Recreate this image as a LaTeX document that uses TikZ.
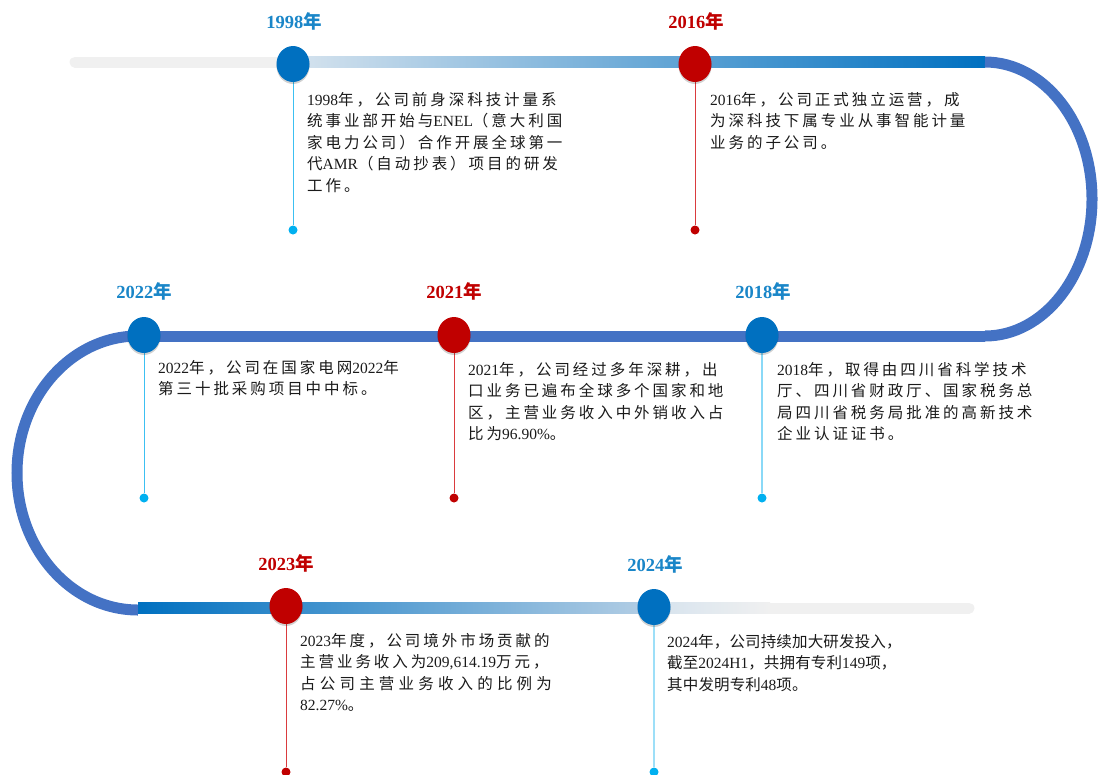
\documentclass[tikz,border=0pt]{standalone}
\usepackage{fontspec}
\setmainfont{Liberation Serif}
\newfontfamily\cjk[LetterSpace=19]{Noto Sans CJK SC}
\newfontfamily\cjkn[LetterSpace=1]{Noto Sans CJK SC}
\newfontfamily\cjkw[LetterSpace=27]{Noto Sans CJK SC}
\newfontfamily\cjky{Noto Sans CJK SC}
\usetikzlibrary{shapes.geometric,shadows}
\newcommand\lat[1]{{\rmfamily #1}}
\definecolor{arcblue}{HTML}{4472C4}
\definecolor{dblue}{HTML}{0070C0}
\definecolor{dred}{HTML}{C00000}
\definecolor{lgray}{HTML}{F0F0F0}
\definecolor{pale}{HTML}{D6E3EE}
\definecolor{mblue}{HTML}{B5CFE5}
\definecolor{yblue}{HTML}{1A86C8}
\definecolor{stemblue}{HTML}{3CC0F2}
\definecolor{stemred}{HTML}{DA3B3E}
\definecolor{dotblue}{HTML}{00B0F0}
\definecolor{txt}{HTML}{1A1A1A}
\tikzset{
  ev/.style={ellipse, fill=#1, minimum width=33pt, minimum height=36pt, inner sep=0pt,
    drop shadow={shadow xshift=0pt, shadow yshift=-2pt, opacity=0.18, fill=black}},
  dot/.style={circle, fill=#1, minimum size=9pt, inner sep=0pt},
  year/.style={text=#1, font=\fontsize{18.5}{22}\selectfont\bfseries, inner sep=0pt},
  body/.style={anchor=north west, inner sep=0pt, align=left, text=txt,
    font=\cjk\fontsize{15.5}{21.5}\selectfont},
  stem/.style={draw=#1, line width=1pt},
  track/.style={line width=11pt},
}
\newcommand\yr[1]{#1{\cjky 年}}
\begin{document}
\begin{tikzpicture}[x=1pt,y=-1pt]
\useasboundingbox (0,0) rectangle (1099,774);
% ---- track ----
\draw[track, lgray, line cap=round] (75,62) -- (293,62);
\shade[left color=pale, right color=dblue] (293,56.5) rectangle (985,67.5);
\draw[track, arcblue] (985,62) arc[start angle=90, end angle=-90, x radius=107pt, y radius=137pt];
\draw[track, arcblue] (985,336) -- (138,336);
\draw[track, arcblue] (138,336) arc[start angle=90, end angle=270, x radius=121pt, y radius=137pt];
\draw[track, lgray, line cap=round] (654,608) -- (969,608);
\shade[left color=dblue, right color=mblue] (138,602.5) rectangle (654,613.5);
\shade[left color=pale, right color=lgray] (654,602.5) rectangle (770,613.5);
% ---- dots ----
\node[dot=dotblue] (d1998) at (293,230) {};
\node[dot=dred]    (d2016) at (695,230) {};
\node[dot=dotblue] (d2022) at (144,498) {};
\node[dot=dred]    (d2021) at (454,498) {};
\node[dot=dotblue] (d2018) at (762,498) {};
\node[dot=dred]    (d2023) at (286,772) {};
\node[dot=dotblue] (d2024) at (654,772) {};
% ---- stems ----
\coordinate (s1998) at (293,64);
\coordinate (s2016) at (695,64);
\coordinate (s2022) at (144,335);
\coordinate (s2021) at (454,335);
\coordinate (s2018) at (762,335);
\coordinate (s2023) at (286,606);
\coordinate (s2024) at (654,607);
\draw[stem=stemblue] (s1998) -- (d1998);
\draw[stem=stemred] (s2016) -- (d2016);
\draw[stem=stemblue] (s2022) -- (d2022);
\draw[stem=stemred] (s2021) -- (d2021);
\draw[stem=stemblue!60, line width=1.5pt] (s2018) -- (d2018);
\draw[stem=stemred] (s2023) -- (d2023);
\draw[stem=stemblue!50, line width=2.5pt] (s2024) -- (d2024);
% ---- event circles ----
\node[ev=dblue] (c1998) at (s1998) {};
\node[ev=dred]  (c2016) at (s2016) {};
\node[ev=dblue] (c2022) at (s2022) {};
\node[ev=dred]  (c2021) at (s2021) {};
\node[ev=dblue] (c2018) at (s2018) {};
\node[ev=dred]  (c2023) at (s2023) {};
\node[ev=dblue] (c2024) at (s2024) {};
% ---- year labels ----
\node[year=yblue] (y1998) at (294,21) {\yr{1998}};
\node[year=dred]  (y2016) at (696,21) {\yr{2016}};
\node[year=yblue] (y2022) at (144,291) {\yr{2022}};
\node[year=dred]  (y2021) at (454,291) {\yr{2021}};
\node[year=yblue] (y2018) at (763,291) {\yr{2018}};
\node[year=dred]  (y2023) at (286,563) {\yr{2023}};
\node[year=yblue] (y2024) at (655,564) {\yr{2024}};
% ---- texts ----
\node[body] (t1998) at (307,92) {\lat{1998}年，公司前身深科技计量系\\统事业部开始与\lat{ENEL}（意大利国\\家电力公司）合作开展全球第一\\代\lat{AMR}（自动抄表）项目的研发\\工作。};
\node[body] (t2016) at (710,92) {\lat{2016}年，公司正式独立运营，成\\为深科技下属专业从事智能计量\\业务的子公司。};
\node[body] (t2022) at (158,360) {\lat{2022}年，公司在国家电网\lat{2022}年\\第三十批采购项目中中标。};
\node[body] (t2021) at (468,362) {\lat{2021}年，公司经过多年深耕，出\\口业务已遍布全球多个国家和地\\区，主营业务收入中外销收入占\\比为\lat{96.90\%}。};
\node[body] (t2018) at (777,362) {\lat{2018}年，取得由四川省科学技术\\厅、四川省财政厅、国家税务总\\局四川省税务局批准的高新技术\\企业认证证书。};
\node[body] (t2023) at (300,633) {\lat{2023}年度，公司境外市场贡献的\\主营业务收入为\lat{209,614.19}万元，\\{\cjkw 占公司主营业务收入的比例为}\\\lat{82.27\%}。};
\node[body, font=\cjkn\fontsize{15.5}{21.5}\selectfont] (t2024) at (667,634) {\lat{2024}年，公司持续加大研发投入，\\截至\lat{2024H1}，共拥有专利\lat{149}项，\\其中发明专利\lat{48}项。};
\end{tikzpicture}
\end{document}
